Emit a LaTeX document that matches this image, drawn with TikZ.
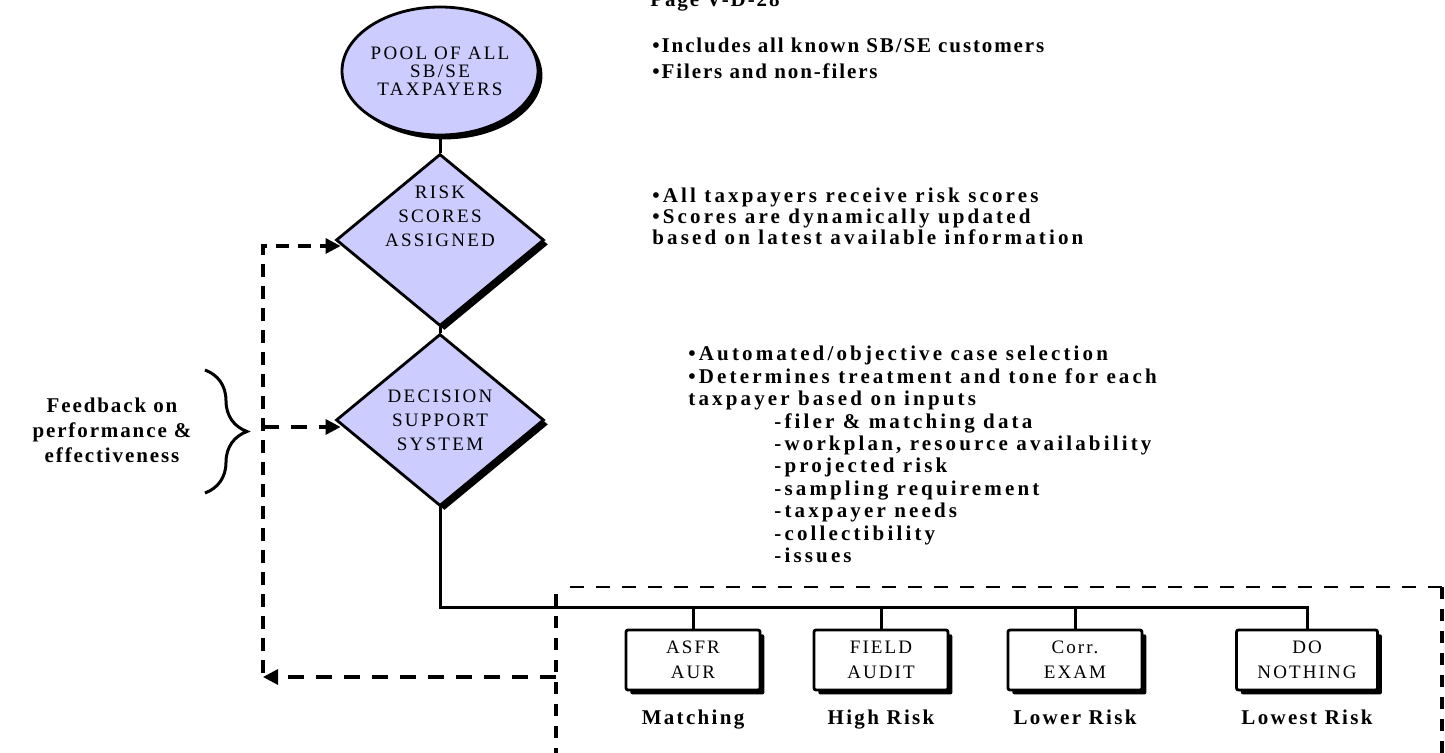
\documentclass[tikz,border=0pt]{standalone}
\usepackage{fontspec}
\setmainfont{Liberation Serif}
\newfontfamily\widefont[LetterSpace=15]{Liberation Serif}
\newfontfamily\tightfont[LetterSpace=9]{Liberation Serif}
\newfontfamily\shapefont[LetterSpace=12]{Liberation Serif}
\newfontfamily\boxfont[LetterSpace=11]{Liberation Serif}
\usepackage{tikz}
\usetikzlibrary{shapes}
\usetikzlibrary{arrows,arrows.meta}
\usetikzlibrary{shadows,positioning,decorations.pathreplacing}
\definecolor{poolblue}{RGB}{204,204,255}

\begin{document}
\begin{tikzpicture}[x=0.5pt,y=-0.5pt,
						link/.style={line width=1.5pt},
						shade box/.style={draw,line width=1.4pt,drop shadow={shadow xshift=2.2pt,shadow yshift=-2.2pt,fill=black,opacity=1}},
						pool/.style={ellipse,shade box,fill=poolblue,minimum width=96pt,minimum height=64pt,inner sep=0pt,align=center,font=\shapefont\fontsize{9.5}{9}\selectfont},
						decide/.style={diamond,shade box,fill=poolblue,minimum width=104pt,minimum height=86pt,inner sep=0pt},
						shapetext/.style={inner sep=0pt,align=center,font=\shapefont\fontsize{9.5}{12}\selectfont},
						action/.style={rectangle,shade box,shadow xshift=1.8pt,fill=white,rounded corners=1pt,minimum width=67pt,minimum height=30pt,inner sep=0pt,align=center,font=\boxfont\fontsize{9.5}{12.5}\selectfont},
						risklabel/.style={inner sep=0pt,font=\boxfont\bfseries\fontsize{10.5}{12}\selectfont},
						note/.style={anchor=north west,inner sep=0pt,align=left,font=\widefont\bfseries\fontsize{10.5}{#1}\selectfont},
						note/.default=11.2pt,
						dashbox/.style={line width=1.6pt,dash pattern=on 6pt off 5pt},
						fbline/.style={line width=1.6pt,dash pattern=on 8pt off 6pt,-{Triangle[length=7.5pt,width=7.5pt]}}
						]
	\useasboundingbox (0,0) rectangle (1445,753);
	\node[pool] (pool) at (440,71) {POOL OF ALL\\SB/SE\\TAXPAYERS};
	\node[decide] (risk) at (440,240) {};
	\node[decide] (dss) at (440,420) {};
	\node[shapetext] (risktext) at (440,216) {RISK\\SCORES\\ASSIGNED};
	\node[shapetext] (dsstext) at (440,420) {DECISION\\SUPPORT\\SYSTEM};
	\draw[link] (pool) -- (risk);
	\draw[link] (risk) -- (dss);

	\node[note,font=\tightfont\bfseries\fontsize{10.5}{11}\selectfont] (page) at (650,-8) {Page V-D-28};
	\node[note=13pt,font=\tightfont\bfseries\fontsize{10.5}{13}\selectfont] (poolnote) at (652,38) {•Includes all known SB/SE customers\\•Filers and non-filers};
	\node[note=10.3pt] (risknote) at (652,188) {•All taxpayers receive risk scores\\•Scores are dynamically updated\\based on latest available information};
	\node[note] (dssnote) at (688,346) {•Automated/objective case selection\\
		•Determines treatment and tone for each\\
		taxpayer based on inputs\\
		\hspace*{43pt}-filer \& matching data\\
		\hspace*{43pt}-workplan, resource availability\\
		\hspace*{43pt}-projected risk\\
		\hspace*{43pt}-sampling requirement\\
		\hspace*{43pt}-taxpayer needs\\
		\hspace*{43pt}-collectibility\\
		\hspace*{43pt}-issues};

	\node[action] (asfr) at (693,660) {ASFR\\AUR};
	\node[action] (field) at (881,660) {FIELD\\AUDIT};
	\node[action] (corr) at (1075,660) {Corr.\\EXAM};
	\node[action,minimum width=70.5pt] (nothing) at (1307,660) {DO\\NOTHING};
	\node[risklabel,below=9pt of asfr] (matching) {Matching};
	\node[risklabel,below=9pt of field] (high) {High Risk};
	\node[risklabel,below=9pt of corr] (lower) {Lower Risk};
	\node[risklabel,below=9pt of nothing] (lowest) {Lowest Risk};

	\coordinate (bus) at (440,607);
	\draw[link] (dss) -- (bus) -| (nothing);
	\foreach \b in {asfr,field,corr}
		\draw[link] (\b) -- (\b |- bus);

	\draw[dashbox] (556,760) -- (556,587);
	\draw[dashbox,line width=1pt,dash pattern=on 7pt off 6pt] (570,587) -- (1442,587);
	\draw[dashbox] (1442,587) -- (1442,760);

	\coordinate (fbout) at (556,677);
	\coordinate (fbcorner) at (263,677);
	\coordinate (fbleft) at (263,673);
	\coordinate (riskin) at ([xshift=3pt,yshift=-3pt]risk.west);
	\coordinate (dssin) at ([xshift=3pt,yshift=-3.5pt]dss.west);
	\draw[fbline] (fbout) -- (fbcorner);
	\draw[fbline,dash pattern=on 6.5pt off 4.5pt] (fbleft) |- (riskin);
	\draw[fbline] (dssin -| fbleft) -- (dssin);

	\node[note,font=\tightfont\bfseries\fontsize{10.5}{12.5}\selectfont,anchor=center,align=center] (feedback) at (112,430) {Feedback on\\performance \&\\effectiveness};
	\coordinate (bracetop) at (205,370);
	\coordinate (bracebot) at (205,493);
	\draw[line width=1.5pt,decorate,decoration={brace,amplitude=21pt}] (bracetop) -- (bracebot);
\end{tikzpicture}
\end{document}
